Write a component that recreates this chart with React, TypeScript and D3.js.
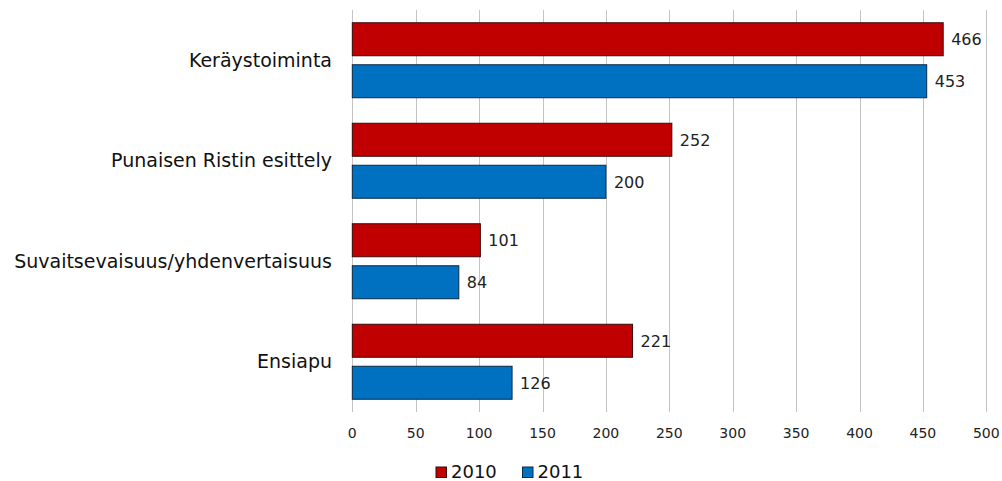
import React from "react";
import * as d3 from "d3";

const categories = ["Keräystoiminta", "Punaisen Ristin esittely", "Suvaitsevaisuus/yhdenvertaisuus", "Ensiapu"];
const series2010 = [466, 252, 101, 221];
const series2011 = [453, 200, 84, 126];
const seriesNames = ["2010", "2011"];
const colors = ["#C00000", "#0070C0"];
const strokes = ["#3a0a0a", "#0a2a44"];
const ticks = [0, 50, 100, 150, 200, 250, 300, 350, 400, 450, 500];

export default function App() {
  const W = 1002, H = 481;
  const left = 352.3, right = 986.3, top = 10, bottom = 412;
  const x = d3.scaleLinear().domain([0, 500]).range([left, right]);
  const y = d3.scaleBand<string>().domain(categories).range([top, bottom]);
  const barH = 33, gap = 9;
  const series = [series2010, series2011];
  const font = "DejaVu Sans, Verdana, sans-serif";
  return (
    <svg width={W} height={H} style={{ position: "absolute", left: 0, top: 0 }} fontFamily={font}>
      <rect width={W} height={H} fill="#fff" />
      {ticks.map((t) => (
        <g key={t}>
          <line x1={Math.round(x(t)) + 0.5} x2={Math.round(x(t)) + 0.5} y1={top} y2={bottom} stroke="#c4c4c4" strokeWidth={1} />
          <text x={x(t)} y={438} textAnchor="middle" fontSize={14} fill="#222">{t}</text>
        </g>
      ))}
      {categories.map((c, i) => {
        const band = y(c)!;
        const center = band + y.bandwidth() / 2;
        const start = center - (2 * barH + gap) / 2;
        return (
          <g key={c}>
            <text x={332} y={center + 6.7} textAnchor="end" fontSize={19} fill="#111">{c}</text>
            {series.map((s, j) => {
              const by = start + j * (barH + gap);
              return (
                <g key={j}>
                  <rect x={x(0)} y={by} width={x(s[i]) - x(0)} height={barH} fill={colors[j]} stroke={strokes[j]} strokeWidth={1} />
                  <text x={x(s[i]) + 8} y={by + barH / 2 + 6} fontSize={16} fill="#222">{s[i]}</text>
                </g>
              );
            })}
          </g>
        );
      })}
      {seriesNames.map((n, j) => {
        const lx = j === 0 ? 436 : 522.5;
        return (
          <g key={n}>
            <rect x={lx} y={467} width={10.5} height={10.5} fill={colors[j]} stroke={strokes[j]} strokeWidth={1} />
            <text x={lx + 15} y={478} fontSize={18} fill="#111">{n}</text>
          </g>
        );
      })}
    </svg>
  );
}
